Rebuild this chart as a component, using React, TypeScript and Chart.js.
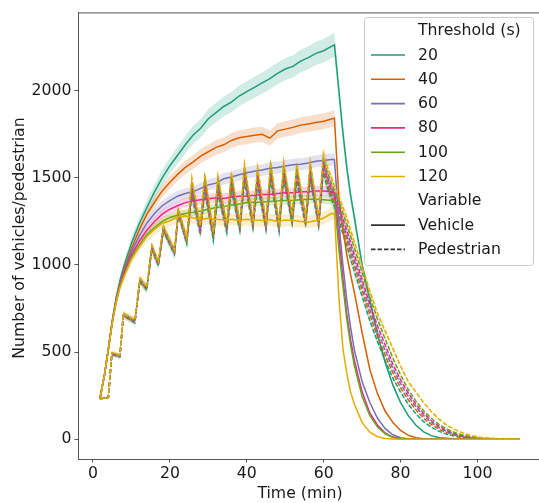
import React, { useEffect, useRef } from "react";
import { Chart, registerables } from "chart.js";

Chart.register(...registerables);

// ---------------- data ----------------
const thresholds = ["20", "40", "60", "80", "100", "120"];
const colors = ["#1b9e77", "#d95f02", "#7570b3", "#e7298a", "#66a61e", "#e6ab02"];

const xTicks = [0, 20, 40, 60, 80, 100];
const yTicks = [0, 500, 1000, 1500, 2000];

// Vehicle series (minutes)
const vehTimes = [
  1.8, 3, 4, 5, 6, 7, 8,
  10, 12, 14, 16, 18, 20, 22, 24, 26, 28,
  30, 32, 34, 36, 38, 40, 42, 44, 46, 48,
  50, 52, 54, 56, 58, 60, 62,
  62.8, 64, 65, 66, 67, 68,
  70, 72, 74, 76, 78, 80, 82, 84, 86, 88, 90,
  95, 100, 105, 111,
];
const veh20 = [
  232, 370, 520, 680, 810, 910, 990,
  1125, 1235, 1330, 1420, 1500, 1570, 1630, 1690, 1745, 1785,
  1840, 1875, 1910, 1935, 1970, 1995, 2020, 2045, 2070, 2100,
  2125, 2140, 2170, 2190, 2215, 2230, 2255,
  2263, 1990, 1760, 1560, 1400, 1270,
  1000, 800, 600, 440, 310, 210, 135, 80, 42, 20, 8,
  1, 0, 0, 0,
];
const veh40 = [
  232, 370, 518, 675, 800, 895, 970,
  1095, 1200, 1290, 1360, 1425, 1475, 1520, 1560, 1590, 1625,
  1650, 1675, 1690, 1715, 1730, 1737, 1745, 1750, 1728, 1770,
  1780, 1790, 1803, 1810, 1818, 1825, 1838,
  1843, 1370, 1210, 1060, 945, 840,
  610, 400, 260, 160, 95, 50, 22, 8, 2, 0, 0,
  0, 0, 0, 0,
];
const veh60 = [
  232, 370, 518, 672, 795, 885, 955,
  1075, 1165, 1240, 1295, 1340, 1370, 1395, 1410, 1420, 1440,
  1460, 1470, 1495, 1505, 1518, 1530, 1538, 1545, 1555, 1560,
  1568, 1575, 1578, 1585, 1595, 1600, 1605,
  1605, 1230, 1000, 800, 640, 510,
  330, 210, 120, 60, 25, 8, 2, 0, 0, 0, 0,
  0, 0, 0, 0,
];
const veh80 = [
  232, 370, 516, 670, 790, 880, 945,
  1055, 1135, 1200, 1250, 1292, 1320, 1340, 1358, 1368, 1375,
  1380, 1386, 1382, 1390, 1395, 1396, 1400, 1405, 1405, 1410,
  1415, 1415, 1420, 1420, 1425, 1425, 1420,
  1415, 1150, 920, 720, 570, 450,
  270, 150, 80, 35, 12, 4, 1, 0, 0, 0, 0,
  0, 0, 0, 0,
];
const veh100 = [
  232, 370, 515, 668, 785, 873, 935,
  1042, 1112, 1175, 1215, 1250, 1273, 1285, 1295, 1302, 1310,
  1320, 1330, 1335, 1345, 1350, 1358, 1360, 1362, 1365, 1368,
  1370, 1372, 1375, 1377, 1377, 1375, 1370,
  1368, 1080, 880, 690, 540, 420,
  245, 135, 70, 30, 10, 3, 1, 0, 0, 0, 0,
  0, 0, 0, 0,
];
const veh120 = [
  232, 370, 515, 665, 782, 870, 930,
  1032, 1102, 1165, 1205, 1240, 1254, 1275, 1282, 1270, 1263,
  1268, 1262, 1258, 1263, 1255, 1262, 1258, 1255, 1260, 1250,
  1258, 1255, 1250, 1245, 1255, 1270, 1295,
  1295, 800, 520, 380, 270, 200,
  95, 40, 14, 4, 1, 0, 0, 0, 0, 0, 0,
  0, 0, 0, 0,
];

// Pedestrian series (minutes)
const pedTimes = [
  1.8, 4, 4.9, 7, 7.9, 10.9, 12.2, 14, 15.3, 17, 18.3, 21.2, 22.2, 24.4,
  25.7, 27.9, 29.1, 31.3, 32.5, 34.8, 36, 38.2, 39.4, 41.6, 42.8, 45, 46.2, 48.4, 49.6, 51.8, 53, 55.3, 56.5, 58.7, 59.9,
  61, 62, 63, 64, 66, 68, 70, 72, 74, 76, 78, 80, 82, 84, 86, 88, 90, 92, 95, 98, 101, 105, 111,
];
const ped20 = [
  232, 240, 485, 472, 708, 668, 905, 855, 1090, 995, 1195, 1060, 1290, 1120,
  1400, 1175, 1420, 1140, 1410, 1185, 1430, 1195, 1480, 1210, 1460, 1200, 1490, 1190, 1490, 1235, 1480, 1225, 1490, 1220, 1530,
  1440, 1380, 1320, 1250, 1110, 960, 820, 680, 560, 450, 350, 270, 200, 145, 100, 68, 45, 28, 12, 5, 2, 0, 0,
];
const ped40 = [
  232, 240, 488, 475, 712, 673, 910, 862, 1097, 1003, 1203, 1070, 1298, 1133,
  1425, 1190, 1445, 1155, 1435, 1200, 1455, 1210, 1505, 1225, 1485, 1215, 1515, 1205, 1515, 1250, 1505, 1240, 1515, 1235, 1555,
  1460, 1400, 1345, 1280, 1145, 995, 855, 715, 590, 480, 380, 295, 225, 168, 120, 84, 57, 37, 17, 8, 3, 1, 0,
];
const ped60 = [
  232, 240, 490, 477, 714, 676, 913, 865, 1100, 1007, 1206, 1074, 1301, 1140,
  1445, 1200, 1465, 1165, 1455, 1210, 1475, 1220, 1525, 1235, 1505, 1225, 1535, 1215, 1535, 1260, 1525, 1250, 1535, 1245, 1575,
  1485, 1425, 1370, 1305, 1170, 1025, 885, 745, 620, 510, 405, 318, 245, 185, 135, 96, 66, 44, 21, 10, 4, 1, 0,
];
const ped80 = [
  232, 240, 492, 479, 716, 679, 916, 868, 1104, 1011, 1210, 1078, 1306, 1145,
  1460, 1210, 1480, 1175, 1470, 1220, 1490, 1230, 1540, 1245, 1520, 1235, 1550, 1225, 1550, 1270, 1540, 1260, 1550, 1255, 1590,
  1505, 1445, 1390, 1330, 1200, 1055, 915, 775, 650, 540, 430, 340, 265, 200, 148, 107, 75, 50, 25, 12, 5, 1, 0,
];
const ped100 = [
  232, 240, 494, 481, 718, 682, 919, 871, 1108, 1015, 1214, 1082, 1311, 1150,
  1480, 1220, 1500, 1185, 1490, 1230, 1510, 1240, 1560, 1255, 1540, 1245, 1570, 1235, 1570, 1280, 1560, 1270, 1570, 1265, 1610,
  1530, 1470, 1415, 1360, 1235, 1095, 955, 815, 688, 575, 465, 368, 285, 218, 163, 120, 85, 58, 30, 15, 6, 2, 0,
];
const ped120 = [
  232, 240, 496, 483, 720, 685, 922, 874, 1112, 1019, 1218, 1086, 1316, 1155,
  1500, 1225, 1520, 1190, 1510, 1235, 1530, 1245, 1580, 1260, 1560, 1250, 1590, 1240, 1590, 1285, 1580, 1275, 1590, 1270, 1640,
  1560, 1500, 1440, 1390, 1270, 1130, 990, 850, 720, 620, 520, 420, 330, 270, 210, 158, 115, 80, 45, 22, 10, 3, 0,
];

// confidence band half-widths (fraction of value)
const vehCiFrac = [0.03, 0.025, 0.022, 0.02, 0.018, 0.028];
const pedCiFrac = [0.025, 0.02, 0.02, 0.02, 0.02, 0.025];

const vehSeries = [veh20, veh40, veh60, veh80, veh100, veh120];
const pedSeries = [ped20, ped40, ped60, ped80, ped100, ped120];

// ---------------- style ----------------
const FONT = '"DejaVu Sans", sans-serif';
const FS = 15.7;
const TEXT = "#1a1a1a";
const SPINE = "#555555";
const PED_DASH = [4.5, 2];

function rgba(hex: string, a: number) {
  const n = parseInt(hex.slice(1), 16);
  return `rgba(${(n >> 16) & 255},${(n >> 8) & 255},${n & 255},${a})`;
}

function buildDatasets() {
  const ds: any[] = [];
  let seq = 0;
  thresholds.forEach((_, i) => {
    const groups: [number[], number[], number, number[]][] = [
      [vehTimes, vehSeries[i], vehCiFrac[i], []],
      [pedTimes, pedSeries[i], pedCiFrac[i], PED_DASH],
    ];
    groups.forEach(([xs, ys, ci, dash]) => {
      ds.push({
        data: xs.map((x, j) => ({ x, y: ys[j] * (1 - ci) })),
        borderColor: "rgba(0,0,0,0)",
        borderWidth: 1,
        pointRadius: 0,
        fill: false,
        order: 3000 - seq,
      });
      ds.push({
        data: xs.map((x, j) => ({ x, y: ys[j] * (1 + ci) })),
        borderColor: "rgba(0,0,0,0)",
        borderWidth: 1,
        backgroundColor: rgba(colors[i], 0.2),
        pointRadius: 0,
        fill: "-1",
        order: 2999 - seq,
      });
      ds.push({
        data: xs.map((x, j) => ({ x, y: ys[j] })),
        borderColor: colors[i],
        borderWidth: 1.5,
        borderDash: dash,
        pointRadius: 0,
        fill: false,
        order: 1000 - seq,
      });
      seq += 2;
    });
  });
  return ds;
}

const legendRows: { label: string; title?: boolean; color?: string; dash?: number[] }[] = [
  { label: "Threshold (s)", title: true },
  ...thresholds.map((t, i) => ({ label: t, color: colors[i], dash: [] as number[] })),
  { label: "Variable", title: true },
  { label: "Vehicle", color: "#333333", dash: [] },
  { label: "Pedestrian", color: "#333333", dash: PED_DASH },
];

const decorPlugin = {
  id: "decor",
  afterDraw(chart: any) {
    const ctx = chart.ctx as CanvasRenderingContext2D;
    const ca = chart.chartArea;
    ctx.save();
    // top spine
    ctx.strokeStyle = SPINE;
    ctx.lineWidth = 1;
    ctx.beginPath();
    ctx.moveTo(ca.left, ca.top + 0.5);
    ctx.lineTo(ca.right, ca.top + 0.5);
    ctx.stroke();

    // axis titles
    ctx.fillStyle = TEXT;
    ctx.font = `${FS}px ${FONT}`;
    ctx.textAlign = "center";
    ctx.textBaseline = "alphabetic";
    ctx.fillText("Time (min)", 300, 498);
    ctx.save();
    ctx.translate(24, 238);
    ctx.rotate(-Math.PI / 2);
    ctx.fillText("Number of vehicles/pedestrian", 0, 0);
    ctx.restore();

    // legend
    const bx = 364.5, by = 17.5, bw = 169, bh = 248;
    ctx.beginPath();
    (ctx as any).roundRect(bx, by, bw, bh, 3);
    ctx.fillStyle = "rgba(255,255,255,0.8)";
    ctx.fill();
    ctx.strokeStyle = "#cccccc";
    ctx.lineWidth = 1;
    ctx.stroke();

    const rowH = 24.3;
    const y0 = 30.7;
    ctx.textAlign = "left";
    ctx.textBaseline = "middle";
    legendRows.forEach((r, k) => {
      const y = y0 + k * rowH;
      if (!r.title) {
        ctx.strokeStyle = r.color as string;
        ctx.lineWidth = 1.6;
        ctx.setLineDash(r.dash || []);
        ctx.beginPath();
        ctx.moveTo(371, y);
        ctx.lineTo(405, y);
        ctx.stroke();
        ctx.setLineDash([]);
      }
      ctx.fillStyle = TEXT;
      ctx.fillText(r.label, 418, y + 0.5);
    });
    ctx.restore();
  },
};

export default function App() {
  const ref = useRef<HTMLCanvasElement | null>(null);

  useEffect(() => {
    document.body.style.margin = "0";
    const canvas = ref.current!;
    const chart = new Chart(canvas, {
      type: "line",
      data: { datasets: buildDatasets() },
      options: {
        animation: false,
        responsive: false,
        devicePixelRatio: 1,
        layout: { padding: { top: 8, left: 0, right: 0, bottom: 0 } },
        plugins: {
          legend: { display: false },
          tooltip: { enabled: false },
          filler: { propagate: false },
        },
        elements: { line: { tension: 0, borderCapStyle: "butt", borderJoinStyle: "miter" } },
        scales: {
          x: {
            type: "linear",
            min: -3.9,
            max: 116,
            afterBuildTicks: (s: any) => {
              s.ticks = xTicks.map((v) => ({ value: v }));
            },
            afterFit: (s: any) => {
              s.height = 44;
            },
            grid: { drawOnChartArea: false, drawTicks: true, tickLength: 3.5, color: SPINE, lineWidth: 1 },
            border: { display: true, color: SPINE, width: 1 },
            ticks: {
              color: TEXT,
              font: { family: FONT, size: FS },
              padding: 2,
              maxRotation: 0,
              autoSkip: false,
              callback: (v: any) => String(v),
            },
          },
          y: {
            type: "linear",
            min: -114,
            max: 2450,
            afterBuildTicks: (s: any) => {
              s.ticks = yTicks.map((v) => ({ value: v }));
            },
            afterFit: (s: any) => {
              s.width = 78;
            },
            grid: { drawOnChartArea: false, drawTicks: true, tickLength: 3.5, color: SPINE, lineWidth: 1 },
            border: { display: true, color: SPINE, width: 1 },
            ticks: {
              color: TEXT,
              font: { family: FONT, size: FS },
              padding: 3,
              autoSkip: false,
              callback: (v: any) => String(v),
            },
          },
        },
      } as any,
      plugins: [decorPlugin],
    });
    return () => chart.destroy();
  }, []);

  return (
    <div style={{ width: 539, height: 503, position: "relative", overflow: "hidden" }}>
      <canvas ref={ref} width={539} height={503} style={{ display: "block", width: 539, height: 503 }} />
    </div>
  );
}
